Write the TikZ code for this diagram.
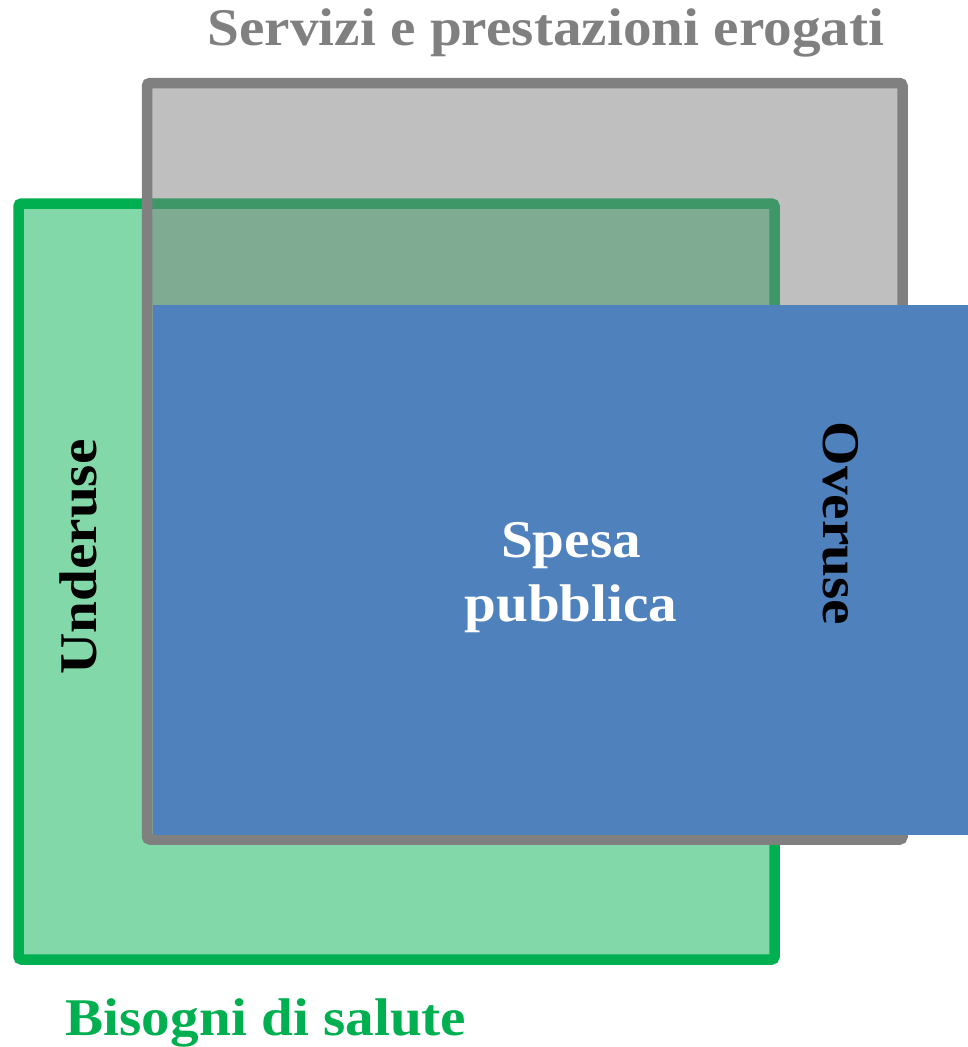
\documentclass[tikz,border=0pt]{standalone}
\usepackage{fontspec}
\setmainfont[FakeStretch=1.08]{Liberation Serif}
\usetikzlibrary{positioning}
\definecolor{grigio}{HTML}{808080}
\definecolor{verde}{HTML}{00B050}
\definecolor{verdechiaro}{HTML}{82D8A8}
\definecolor{blu}{HTML}{4F81BD}
\begin{document}
\begin{tikzpicture}[
  x=1bp,y=-1bp,
  box/.style={line width=10.5bp,rounded corners=3bp},
  label/.style={font=\bfseries\fontsize{53bp}{64bp}\selectfont,inner sep=0pt}
]
\useasboundingbox (0,0) rectangle (968,1047);
% insiemi
\draw[box,draw=verde,fill=verdechiaro] (18.5,203.5) rectangle (774.5,959.5);
\draw[box,draw=grigio,fill=black!51,fill opacity=0.49] (147,83) rectangle (902.5,839.5);
\fill[blu] (153,305) rectangle (968,835);
% etichette
\node[label,text=grigio,anchor=base] (servizi) at (546,45) {Servizi e prestazioni erogati};
\node[label,text=verde,anchor=base] (bisogni) at (266,1035) {Bisogni di salute};
\node[label,rotate=90,anchor=base] (underuse) at (96,557) {Underuse};
\node[label,rotate=-90,anchor=base] (overuse) at (823,523.5) {Overuse};
\node[label,text=white,align=center,anchor=base] (spesa) at (571,621) {Spesa\\pubblica};
\end{tikzpicture}
\end{document}
